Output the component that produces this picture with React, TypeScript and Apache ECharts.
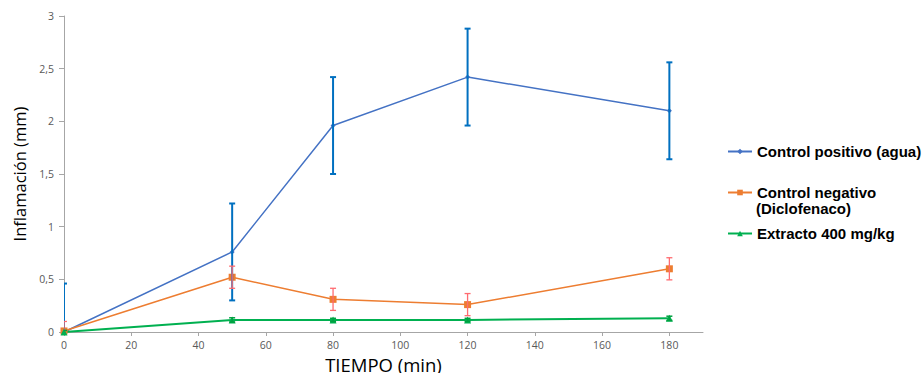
import React, { useEffect, useRef } from "react";
import * as echarts from "echarts";

const times = [0, 50, 80, 120, 180];
const xTicks = [0, 20, 40, 60, 80, 100, 120, 140, 160, 180];
const yTicks = [0, 0.5, 1, 1.5, 2, 2.5, 3];

const positivoName = "Control positivo (agua)";
const positivoMean = [0, 0.76, 1.96, 2.42, 2.1];
const positivoErr = [0.46, 0.46, 0.46, 0.46, 0.46];

const negativoName = "Control negativo (Diclofenaco)";
const negativoMean = [0.01, 0.52, 0.31, 0.26, 0.6];
const negativoErr = [0.09, 0.105, 0.105, 0.105, 0.105];

const extractoName = "Extracto 400 mg/kg";
const extractoMean = [0, 0.115, 0.115, 0.115, 0.13];
const extractoErr = [0.015, 0.02, 0.015, 0.015, 0.02];

function errData(mean: number[], err: number[]) {
  return times.map((t, i) => [t, mean[i] - err[i], mean[i] + err[i]]);
}

function errSeries(mean: number[], err: number[], color: string, width: number, cap: number) {
  return {
    type: "custom",
    silent: true,
    clip: true,
    z: 5,
    data: errData(mean, err),
    encode: { x: 0, y: [1, 2] },
    renderItem: (params: any, api: any) => {
      const x = api.value(0);
      const lo = api.value(1);
      const hi = api.value(2);
      const pHi = api.coord([x, hi]);
      const pLo = api.coord([x, lo]);
      const style = { stroke: color, lineWidth: width };
      return {
        type: "group",
        children: [
          { type: "line", shape: { x1: pHi[0], y1: pHi[1], x2: pLo[0], y2: pLo[1] }, style },
          { type: "line", shape: { x1: pHi[0] - cap, y1: pHi[1], x2: pHi[0] + cap, y2: pHi[1] }, style },
          { type: "line", shape: { x1: pLo[0] - cap, y1: pLo[1], x2: pLo[0] + cap, y2: pLo[1] }, style },
        ],
      };
    },
  };
}

export default function App() {
  const ref = useRef<HTMLDivElement>(null);
  useEffect(() => {
    if (!ref.current) return;
    const chart = echarts.init(ref.current, undefined, { renderer: "svg" });
    const legendText = {
      fontFamily: "Liberation Sans",
      fontWeight: "bold" as const,
      fontSize: 15,
      color: "#000",
    };
    const fmt = (v: number) => String(v).replace(".", ",");
    const legendBase = {
      orient: "vertical",
      left: 727,
      padding: 0,
      itemWidth: 24,
      itemHeight: 7,
      textStyle: legendText,
    };
    chart.setOption({
      animation: false,
      backgroundColor: "#fff",
      grid: {
        left: 64,
        right: 220,
        top: 16,
        bottom: 41,
        containLabel: false,
        outerBoundsMode: "none",
      },
      xAxis: {
        type: "value",
        min: 0,
        max: 190,
        interval: 20,
        name: "TIEMPO (min)",
        nameLocation: "middle",
        nameGap: 23,
        nameTextStyle: { fontFamily: "Open Sans", fontSize: 18.5, color: "#000" },
        axisLine: { show: true, lineStyle: { color: "#A6A6A6", width: 1 } },
        axisTick: { show: true, length: 4, lineStyle: { color: "#A6A6A6" } },
        axisLabel: {
          fontFamily: "Open Sans",
          fontSize: 10.5,
          color: "#595959",
          margin: 7,
          showMaxLabel: false,
          formatter: (v: number) => (xTicks.includes(v) ? fmt(v) : ""),
        },
        splitLine: { show: false },
      },
      yAxis: {
        type: "value",
        min: 0,
        max: 3,
        interval: 0.5,
        name: "Inflamación (mm)",
        nameLocation: "middle",
        nameGap: 34,
        nameTextStyle: { fontFamily: "Open Sans", fontSize: 16.5, color: "#000" },
        axisLine: { show: true, lineStyle: { color: "#A6A6A6", width: 1 } },
        axisTick: { show: true, length: 5, lineStyle: { color: "#A6A6A6" } },
        axisLabel: {
          fontFamily: "Open Sans",
          fontSize: 10.5,
          color: "#595959",
          margin: 10,
          formatter: (v: number) => (yTicks.includes(v) ? fmt(v) : ""),
        },
        splitLine: { show: false },
      },
      legend: [
        { ...legendBase, top: 144, data: [positivoName] },
        { ...legendBase, top: 185, data: [negativoName], formatter: () => "Control negativo" },
        { ...legendBase, top: 226, data: [extractoName] },
      ],
      graphic: [
        {
          type: "text",
          left: 756,
          top: 201,
          style: { text: "(Diclofenaco)", font: "bold 15px 'Liberation Sans'", fill: "#000" },
        },
      ],
      series: [
        {
          name: positivoName,
          type: "line",
          data: times.map((t, i) => [t, positivoMean[i]]),
          symbol: "diamond",
          symbolSize: 5,
          lineStyle: { color: "#4472C4", width: 1.5 },
          itemStyle: { color: "#4472C4" },
          z: 3,
        },
        {
          name: negativoName,
          type: "line",
          data: times.map((t, i) => [t, negativoMean[i]]),
          symbol: "rect",
          symbolSize: 7,
          lineStyle: { color: "#ED7D31", width: 1.5 },
          itemStyle: { color: "#ED7D31" },
          z: 3,
        },
        {
          name: extractoName,
          type: "line",
          data: times.map((t, i) => [t, extractoMean[i]]),
          symbol: "triangle",
          symbolSize: 7,
          lineStyle: { color: "#00B050", width: 2 },
          itemStyle: { color: "#00B050" },
          z: 3,
        },
        errSeries(positivoMean, positivoErr, "#0070C0", 2, 3),
        errSeries(negativoMean, negativoErr, "#FF6B70", 1.3, 3),
        errSeries(extractoMean, extractoErr, "#00A040", 1.5, 3),
      ],
    });
    return () => chart.dispose();
  }, []);
  return (
    <div
      ref={ref}
      style={{ position: "absolute", left: 0, top: 0, width: 923, height: 373 }}
    />
  );
}
